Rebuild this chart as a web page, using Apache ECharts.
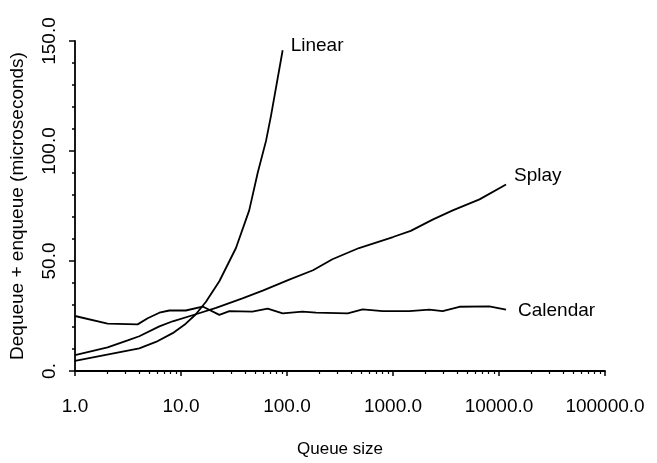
<!DOCTYPE html>
<html>
<head>
<meta charset="utf-8">
<script src="https://cdn.jsdelivr.net/npm/echarts@6/dist/echarts.min.js"></script>
<style>
html,body{margin:0;padding:0;background:#fff;}
#c{width:657px;height:463px;}
</style>
</head>
<body>
<div id="c"></div>
<script>
// Data: [queue size, microseconds]
var linearX = [1, 4.04, 5.8, 8.35, 11.1, 13.8, 17.2, 23, 33, 44, 53, 63.4, 70.6, 91];
var linearY = [4.6, 10.3, 13.2, 17.2, 21.5, 25.8, 31.5, 40.8, 55.9, 73, 90.2, 104.6, 116, 145.8];

var splayX = [1, 2.03, 3.14, 4.04, 6.25, 8.35, 13.8, 21.4, 38, 59, 105, 176, 268, 478, 1000, 1470, 2365, 3660, 6550, 11650];
var splayY = [7.2, 10.7, 13.9, 15.8, 20.3, 22.6, 25.8, 28.7, 33, 36.5, 41.5, 45.8, 50.8, 55.9, 60.9, 63.7, 68.8, 73, 78, 84.8];

var calendarX = [1, 2.03, 3.9, 4.85, 6.25, 7.76, 11.1, 16, 23, 28.6, 47, 65.7, 91, 140, 188, 374, 517, 800, 1425, 2200, 2940, 4230, 8100, 11650];
var calendarY = [25, 21.5, 21.2, 24, 26.5, 27.5, 27.5, 29.3, 25.5, 27.2, 27, 28.4, 26.2, 27, 26.5, 26.2, 28, 27.2, 27.2, 27.9, 27.2, 29.2, 29.4, 27.9];

var seriesNames = ['Linear', 'Splay', 'Calendar'];
var xTickLabels = ['1.0', '10.0', '100.0', '1000.0', '10000.0', '100000.0'];
var yTickValues = [0, 50, 100, 150];
var yTickLabels = ['0.', '50.0', '100.0', '150.0'];

function pairs(xs, ys) { return xs.map(function (x, i) { return [x, ys[i]]; }); }

var FONT = '"Liberation Sans", Arial, Helvetica, sans-serif';
var chart = echarts.init(document.getElementById('c'), null, {renderer: 'canvas'});

function mkSeries(name, xs, ys, off) {
  return {
    name: name,
    type: 'line',
    data: pairs(xs, ys),
    symbol: 'none',
    smooth: false,
    lineStyle: {color: '#000', width: 1.8},
    endLabel: {
      show: true,
      formatter: '{a}',
      color: '#000',
      fontFamily: FONT,
      fontSize: 19,
      distance: 8,
      offset: off
    },
    z: 3
  };
}

chart.setOption({
  animation: false,
  backgroundColor: '#fff',
  grid: {left: 66, right: 52, top: 41, bottom: 79, containLabel: false},
  xAxis: {
    type: 'log',
    logBase: 10,
    min: 1,
    max: 100000,
    name: 'Queue size',
    nameLocation: 'middle',
    nameGap: 70,
    nameTextStyle: {color: '#000', fontFamily: FONT, fontSize: 17},
    axisLine: {show: true, lineStyle: {color: '#000', width: 1.8}},
    axisTick: {show: true, inside: false, length: 5, lineStyle: {color: '#000', width: 1.5}},
    minorTick: {show: true, splitNumber: 9, length: 3, lineStyle: {color: '#000', width: 1.2}},
    splitLine: {show: false},
    minorSplitLine: {show: false},
    axisLabel: {
      color: '#000', fontFamily: FONT, fontSize: 19, margin: 26,
      formatter: function (v) {
        var k = Math.round(Math.log10(v));
        return xTickLabels[k] !== undefined ? xTickLabels[k] : '';
      }
    }
  },
  yAxis: {
    type: 'value',
    min: 0,
    max: 150,
    interval: 50,
    name: 'Dequeue + enqueue (microseconds)',
    nameLocation: 'middle',
    nameRotate: 90,
    nameGap: 48,
    nameTextStyle: {color: '#000', fontFamily: FONT, fontSize: 19},
    axisLine: {show: true, lineStyle: {color: '#000', width: 1.8}},
    axisTick: {show: true, inside: false, length: 6, lineStyle: {color: '#000', width: 1.5}},
    minorTick: {show: true, splitNumber: 5, length: 3, lineStyle: {color: '#000', width: 1.5}},
    splitLine: {show: false},
    minorSplitLine: {show: false},
    axisLabel: {
      color: '#000', fontFamily: FONT, fontSize: 19, margin: 16, rotate: 90,
      formatter: function (v) {
        var i = yTickValues.indexOf(v);
        return i >= 0 ? yTickLabels[i] : '';
      }
    }
  },
  series: [
    mkSeries(seriesNames[0], linearX, linearY, [0, -4]),
    mkSeries(seriesNames[1], splayX, splayY, [0, -9]),
    mkSeries(seriesNames[2], calendarX, calendarY, [4, 1])
  ]
});
</script>
</body>
</html>
